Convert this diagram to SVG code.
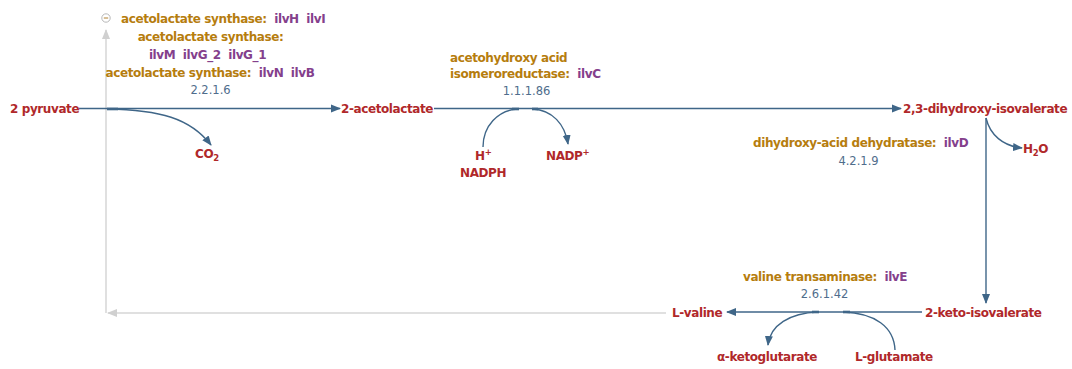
<svg xmlns="http://www.w3.org/2000/svg" width="1072" height="369" viewBox="0 0 1072 369">
<defs>
<style>
.met{font-family:"DejaVu Sans",Verdana,sans-serif;font-weight:bold;font-size:12px;letter-spacing:-0.4px;fill:#b0282a}
.enz{font-family:"DejaVu Sans",Verdana,sans-serif;font-weight:bold;font-size:12px;letter-spacing:-0.4px;fill:#b67d0e}
.gene{fill:#84408c}
.ec{font-family:"DejaVu Sans",Verdana,sans-serif;font-size:11.5px;fill:#4f6d8c}
.ln{fill:none;stroke:#3f6688;stroke-width:1.4}
.gr{fill:none;stroke:#d6d6d6;stroke-width:1.5}
.sub{font-size:8.5px}
</style>
<marker id="ah" viewBox="0 0 10 10" refX="9" refY="5" markerWidth="10" markerHeight="10" markerUnits="userSpaceOnUse" orient="auto">
<path d="M0,1 L10,5 L0,9 Z" fill="#3f6688"/>
</marker>
<marker id="ag" viewBox="0 0 10 10" refX="9" refY="5" markerWidth="10" markerHeight="10" markerUnits="userSpaceOnUse" orient="auto">
<path d="M0,1 L10,5 L0,9 Z" fill="#d0d0d0"/>
</marker>
</defs>

<g id="connectors">
<path class="gr" d="M666,313 L108,313" marker-end="url(#ag)"/>
<path class="gr" d="M106,313 L106,30" marker-end="url(#ag)"/>
<path class="ln" d="M79,108.5 L340,108.5" marker-end="url(#ah)"/>
<path class="ln" d="M434,108.5 L901,108.5" marker-end="url(#ah)"/>
<path class="ln" d="M986,118 L986,303" marker-end="url(#ah)"/>
<path class="ln" d="M922,312 L727,312" marker-end="url(#ah)"/>
<path class="ln" d="M107,109 C160,110 190,118 211,145" marker-end="url(#ah)"/>
<path class="ln" d="M483,147 C483,126 498,110 518,109"/>
<path class="ln" d="M533,109 C552,110 565,124 568,144" marker-end="url(#ah)"/>
<path class="ln" d="M986,118 C990,135 1003,146 1022,148" marker-end="url(#ah)"/>
<path class="ln" d="M818,312 C790,313 770,325 768,345" marker-end="url(#ah)"/>
<path class="ln" d="M843,312 C875,313 894,327 895,350"/>
<g stroke="#3f6688" stroke-width="2.6">
<path d="M107,109 L118,109"/>
<path d="M512,109 L519,109"/>
<path d="M532,109 L538,109"/>
<path d="M812,312 L819,312"/>
<path d="M843,312 L850,312"/>
</g>
</g>

<g id="reaction-2.2.1.6">
<circle cx="106" cy="18" r="4.2" fill="#fff" stroke="#b8b8b8" stroke-width="1"/>
<path d="M103.8,18 L108.2,18" stroke="#b08030" stroke-width="1"/>
<text class="enz" x="121" y="23">acetolactate synthase:&#160; <tspan class="gene">ilvH&#160; ilvI</tspan></text>
<text class="enz" x="210.5" y="41" text-anchor="middle">acetolactate synthase:</text>
<text class="enz gene" x="207.5" y="59" text-anchor="middle">ilvM&#160; ilvG_2&#160; ilvG_1</text>
<text class="enz" x="210" y="77" text-anchor="middle">acetolactate synthase:&#160; <tspan class="gene">ilvN&#160; ilvB</tspan></text>
<text class="ec" x="210.5" y="94" text-anchor="middle">2.2.1.6</text>
</g>

<g id="reaction-1.1.1.86">
<text class="enz" x="450" y="62">acetohydroxy acid</text>
<text class="enz" x="450" y="78">isomeroreductase:&#160; <tspan class="gene">ilvC</tspan></text>
<text class="ec" x="526.5" y="95" text-anchor="middle">1.1.1.86</text>
</g>

<g id="reaction-4.2.1.9">
<text class="enz" x="753" y="147">dihydroxy-acid dehydratase:&#160; <tspan class="gene">ilvD</tspan></text>
<text class="ec" x="858.5" y="165" text-anchor="middle">4.2.1.9</text>
</g>

<g id="reaction-2.6.1.42">
<text class="enz" x="743" y="281">valine transaminase:&#160; <tspan class="gene">ilvE</tspan></text>
<text class="ec" x="824.5" y="298" text-anchor="middle">2.6.1.42</text>
</g>

<g id="pyruvate"><text class="met" x="10" y="113">2 pyruvate</text></g>
<g id="acetolactate"><text class="met" x="341" y="113">2-acetolactate</text></g>
<g id="dihydroxy-isovalerate"><text class="met" x="903" y="113">2,3-dihydroxy-isovalerate</text></g>
<g id="keto-isovalerate"><text class="met" x="925" y="317">2-keto-isovalerate</text></g>
<g id="L-valine"><text class="met" x="672" y="317">L-valine</text></g>
<g id="CO2"><text class="met" x="195" y="158">CO<tspan class="sub" dy="3">2</tspan></text></g>
<g id="H"><text class="met" x="475" y="160">H<tspan class="sub" dy="-5">+</tspan></text></g>
<g id="NADPH"><text class="met" x="460" y="177">NADPH</text></g>
<g id="NADP"><text class="met" x="546" y="160">NADP<tspan class="sub" dy="-5">+</tspan></text></g>
<g id="H2O"><text class="met" x="1023" y="153">H<tspan class="sub" dy="3">2</tspan><tspan dy="-3">O</tspan></text></g>
<g id="ketoglutarate"><text class="met" x="717" y="361">α-ketoglutarate</text></g>
<g id="L-glutamate"><text class="met" x="855" y="361">L-glutamate</text></g>
</svg>
